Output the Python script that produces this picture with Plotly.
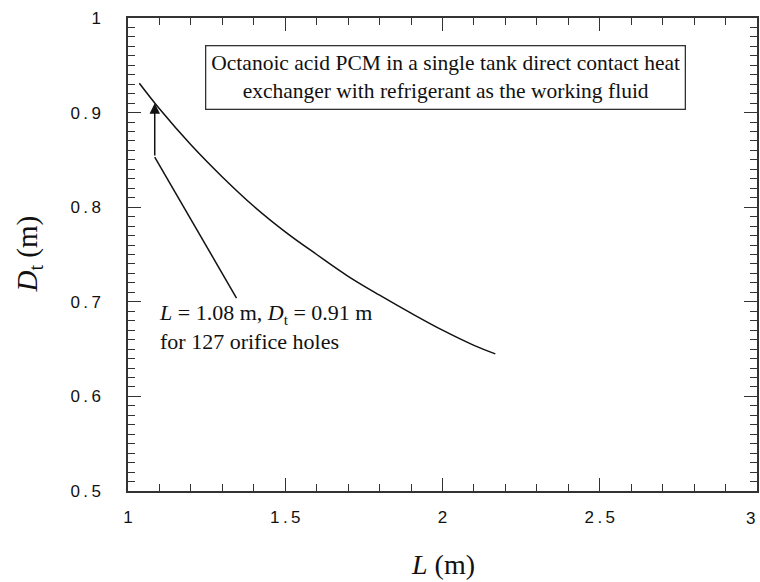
import plotly.graph_objects as go

# Data
L_vals = [1.036, 1.10, 1.20, 1.30, 1.40, 1.50, 1.60, 1.70, 1.80, 1.90, 2.00, 2.10, 2.168]
Dt_vals = [0.931, 0.904, 0.866, 0.832, 0.801, 0.774, 0.750, 0.727, 0.707, 0.688, 0.670, 0.654, 0.645]

x_ticks = [1, 1.5, 2, 2.5, 3]
x_ticklabels = ["1", "1.5", "2", "2.5", "3"]
y_ticks = [0.5, 0.6, 0.7, 0.8, 0.9, 1]
y_ticklabels = ["0.5", "0.6", "0.7", "0.8", "0.9", "1"]

# annotated design point
point_L = 1.085
point_D = 0.91
arrow_bend = (1.085, 0.853)
arrow_tail = (1.345, 0.704)
note_text = "<i>L</i> = 1.08 m, <i>D</i><sub>t</sub> = 0.91 m<br>for 127 orifice holes"
box_text = "Octanoic acid PCM in a single tank direct contact heat<br>exchanger with refrigerant as the working fluid"

SERIF = "Liberation Serif, Times New Roman, serif"
TICKFONT = dict(family="Liberation Sans, Arial", size=17, color="#111")

def spaced(s):
    return "\u2009".join(list(s))

fig = go.Figure()
fig.add_trace(go.Scatter(x=L_vals, y=Dt_vals, mode="lines", line=dict(color="#111", width=1.5, shape="spline"),
                         showlegend=False, hoverinfo="skip"))
fig.add_trace(go.Scatter(x=[arrow_tail[0], arrow_bend[0]], y=[arrow_tail[1], arrow_bend[1]], mode="lines",
                         line=dict(color="#111", width=1.5), showlegend=False, hoverinfo="skip"))

axis_common = dict(showline=True, linecolor="#333", linewidth=1.5, mirror="ticks", ticks="inside",
                   tickcolor="#333", tickwidth=1.3, ticklen=13, showgrid=False, zeroline=False,
                   tickfont=TICKFONT)

# last x tick label sits at the right page edge; it is drawn right-anchored so it stays visible
x_ticktext = [spaced(t) for t in x_ticklabels[:-1]] + [""]

fig.update_layout(
    width=760, height=582,
    margin=dict(l=128, r=1, t=18, b=91),
    plot_bgcolor="white", paper_bgcolor="white",
    xaxis=dict(range=[1, 3], tickvals=x_ticks, ticktext=x_ticktext,
               minor=dict(dtick=0.1, ticks="inside", ticklen=7, tickcolor="#333", tickwidth=1.2),
               ticklabelstandoff=10, **axis_common),
    yaxis=dict(range=[0.5, 1], tickvals=y_ticks, ticktext=[spaced(t) for t in y_ticklabels],
               minor=dict(dtick=0.01, ticks="inside", ticklen=7, tickcolor="#333", tickwidth=1.2),
               ticklabelstandoff=22, **axis_common),
    annotations=[
        dict(x=point_L, y=point_D, ax=arrow_bend[0], ay=arrow_bend[1], axref="x", ayref="y", xref="x", yref="y",
             text="", showarrow=True, arrowhead=2, arrowsize=1.4, arrowwidth=1.5, arrowcolor="#111", standoff=0),
        dict(x=1.092, y=0.673, xref="x", yref="y", text=note_text, showarrow=False, xanchor="left", yanchor="middle",
             align="left", font=dict(family=SERIF, size=22, color="#111")),
        dict(x=2.008, y=0.9375, xref="x", yref="y", text=box_text, showarrow=False, xanchor="center", yanchor="middle",
             align="center", bordercolor="#333", borderwidth=1.3, borderpad=5, bgcolor="white",
             font=dict(family=SERIF, size=21.5, color="#111")),
        dict(x=x_ticks[-1], y=0, xref="x", yref="paper", yshift=-27, xanchor="right", yanchor="middle",
             text=x_ticklabels[-1], showarrow=False, font=TICKFONT),
        dict(x=0.5, y=0, xref="paper", yref="paper", yshift=-73, xanchor="center", yanchor="middle",
             text="<i>L</i> (m)", showarrow=False, font=dict(family=SERIF, size=28, color="#111")),
        dict(x=0, y=0.5, xref="paper", yref="paper", xshift=-100, xanchor="center", yanchor="middle",
             textangle=-90, text="<i>D</i><sub>t</sub> (m)", showarrow=False,
             font=dict(family=SERIF, size=29, color="#111")),
    ],
)

fig.write_html("out.html")
